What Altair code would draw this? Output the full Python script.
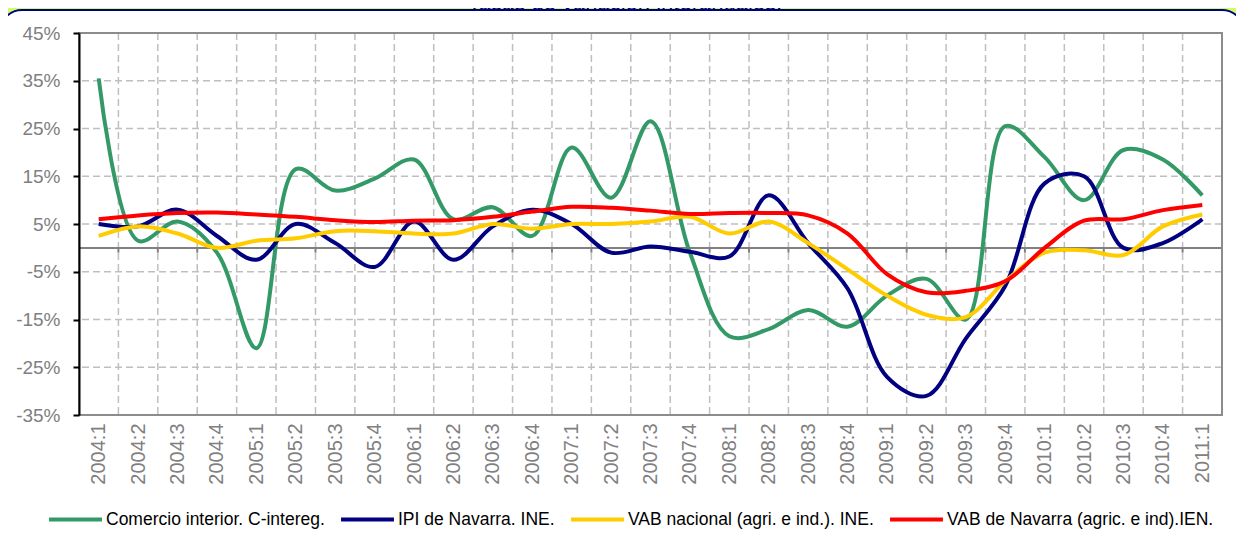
import altair as alt
import pandas as pd

categories = ["2004:1", "2004:2", "2004:3", "2004:4", "2005:1", "2005:2", "2005:3", "2005:4",
              "2006:1", "2006:2", "2006:3", "2006:4", "2007:1", "2007:2", "2007:3", "2007:4",
              "2008:1", "2008:2", "2008:3", "2008:4", "2009:1", "2009:2", "2009:3", "2009:4",
              "2010:1", "2010:2", "2010:3", "2010:4", "2011:1"]

comercio = [35.5, 1.5, 5.5, -1.0, -21.0, 16.5, 12.0, 14.5, 18.5, 6.0, 8.5, 2.5, 21.0, 10.5,
            26.5, -1.0, -18.5, -17.0, -13.0, -16.5, -10.0, -6.5, -15.0, 25.5, 19.0, 10.0,
            20.5, 18.5, 11.0]
ipi = [5.0, 4.5, 8.0, 2.5, -2.5, 5.0, 1.0, -4.0, 5.5, -2.5, 4.5, 8.0, 5.0, -1.0, 0.3, -0.8,
       -1.8, 11.0, 1.0, -8.5, -27.0, -31.0, -19.0, -8.0, 13.5, 15.0, 0.0, 1.0, 6.0]
vab_nacional = [2.5, 4.5, 3.0, 0.0, 1.5, 2.0, 3.5, 3.5, 3.0, 3.0, 5.0, 4.0, 5.0, 5.0, 5.5,
                6.5, 3.0, 5.5, 1.0, -4.5, -10.0, -14.0, -14.5, -7.0, -1.0, -0.5, -1.5, 4.5, 7.0]
vab_navarra = [6.0, 6.8, 7.3, 7.4, 7.0, 6.5, 5.8, 5.4, 5.7, 5.8, 6.5, 7.6, 8.6, 8.4, 7.8, 7.1,
               7.3, 7.3, 6.8, 3.0, -5.5, -9.3, -9.0, -7.0, 0.0, 5.7, 6.0, 7.9, 9.0]

series_names = ["Comercio interior. C-intereg.", "IPI de Navarra. INE.",
                "VAB nacional (agri. e ind.). INE.", "VAB de Navarra (agric. e ind).IEN."]
series_values = [comercio, ipi, vab_nacional, vab_navarra]
series_colors = ["#339966", "#000080", "#FFCC00", "#FF0000"]

y_ticks = [-35, -25, -15, -5, 5, 15, 25, 35, 45]
title_text = "Tasas de variación interanuales."

FONT = "Liberation Sans"
W, H = 1143, 382
LIME = "#CCFF66"
NAVY = "#000080"

rows = []
for name, vals in zip(series_names, series_values):
    for k, v in enumerate(vals):
        rows.append({"i": k, "v": v, "serie": name})
df = pd.DataFrame(rows)

label_expr = "[" + ",".join("'" + c + "'" for c in categories) + "][datum.value]"

X = alt.X("i:Q",
          scale=alt.Scale(domain=[-0.5, len(categories) - 0.5], nice=False, zero=False),
          axis=alt.Axis(values=list(range(len(categories))), labelExpr=label_expr,
                        labelAngle=-90, grid=False, ticks=False, tickSize=0, domain=False,
                        labelPadding=8, labelFontSize=20, labelColor="#808080",
                        labelFont=FONT, title=None, labelOverlap=False))
Y = alt.Y("v:Q",
          scale=alt.Scale(domain=[-35, 45], nice=False, zero=False),
          axis=alt.Axis(values=y_ticks, labelExpr="datum.value + '%'", grid=False,
                        domainColor="black", domainWidth=2, tickColor="black", tickWidth=2,
                        tickSize=6, labelPadding=13, labelFontSize=19, labelColor="#808080",
                        labelFont=FONT, title=None, zindex=1))

one = alt.Data(values=[{"a": 1}])

lime_strip = alt.Chart(one).mark_rect(color=LIME).encode(
    x=alt.value(-71), x2=alt.value(W + 14), y=alt.value(-25), y2=alt.value(-23))
corner_l = alt.Chart(one).mark_arc(color=LIME, innerRadius=22, outerRadius=45,
                                   theta=4.7124, theta2=6.2832).encode(
    x=alt.value(-57), y=alt.value(-1))
corner_r = alt.Chart(one).mark_arc(color=LIME, innerRadius=22, outerRadius=45,
                                   theta=0, theta2=1.5708).encode(
    x=alt.value(W), y=alt.value(-1))
box = alt.Chart(one).mark_rect(fillOpacity=0, stroke=NAVY, strokeWidth=2,
                               cornerRadius=22).encode(
    x=alt.value(-79), x2=alt.value(W + 22), y=alt.value(-23), y2=alt.value(527))

vgrid = alt.Chart(pd.DataFrame({"i": [k + 0.5 for k in range(len(categories) - 1)]})).mark_rule(
    color="#BFBFBF", strokeDash=[7, 4], strokeWidth=1.5).encode(x=X)
hgrid = alt.Chart(pd.DataFrame({"v": y_ticks[1:-1]})).mark_rule(
    color="#BFBFBF", strokeDash=[7, 4], strokeWidth=1.5).encode(y=Y)
zero = alt.Chart(pd.DataFrame({"v": [0]})).mark_rule(color="#808080", strokeWidth=2).encode(y=Y)
zero_ticks = alt.Chart(pd.DataFrame({"i": [k + 0.5 for k in range(len(categories) - 1)],
                                     "v": [0] * (len(categories) - 1),
                                     "v2": [-1] * (len(categories) - 1)})).mark_rule(
    color="#808080", strokeWidth=2).encode(x=X, y=Y, y2="v2:Q")

lines = alt.Chart(df).mark_line(interpolate="catmull-rom", strokeWidth=4).encode(
    x=X, y=Y,
    color=alt.Color("serie:N",
                    scale=alt.Scale(domain=series_names, range=series_colors),
                    sort=series_names,
                    legend=alt.Legend(orient="none", legendX=-32, legendY=458,
                                      direction="horizontal", columns=4, title=None,
                                      symbolType="stroke", symbolSize=2800,
                                      symbolStrokeWidth=4, labelFontSize=17.5,
                                      labelColor="black", labelFont=FONT, labelOffset=2,
                                      columnPadding=8, labelLimit=0, padding=0)))

frame = alt.Chart(one).mark_rect(fillOpacity=0, stroke="#8C8C8C", strokeWidth=2).encode(
    x=alt.value(0), x2=alt.value(W), y=alt.value(0), y2=alt.value(H))

title = alt.Chart(one).mark_text(text=title_text, font=FONT, fontSize=22, color=NAVY,
                                 align="center", baseline="alphabetic").encode(
    x=alt.value(546), y=alt.value(-23))

chart = alt.layer(lime_strip, corner_l, corner_r, box, vgrid, hgrid, zero, zero_ticks,
                  lines, frame, title).properties(
    width=W, height=H,
    padding={"left": 71, "top": 25, "right": 14, "bottom": 123},
    autosize=alt.AutoSizeParams(type="none"),
    background="white",
).configure_view(stroke="transparent")

chart.save("out.html", embed_options={"renderer": "svg", "actions": False})
